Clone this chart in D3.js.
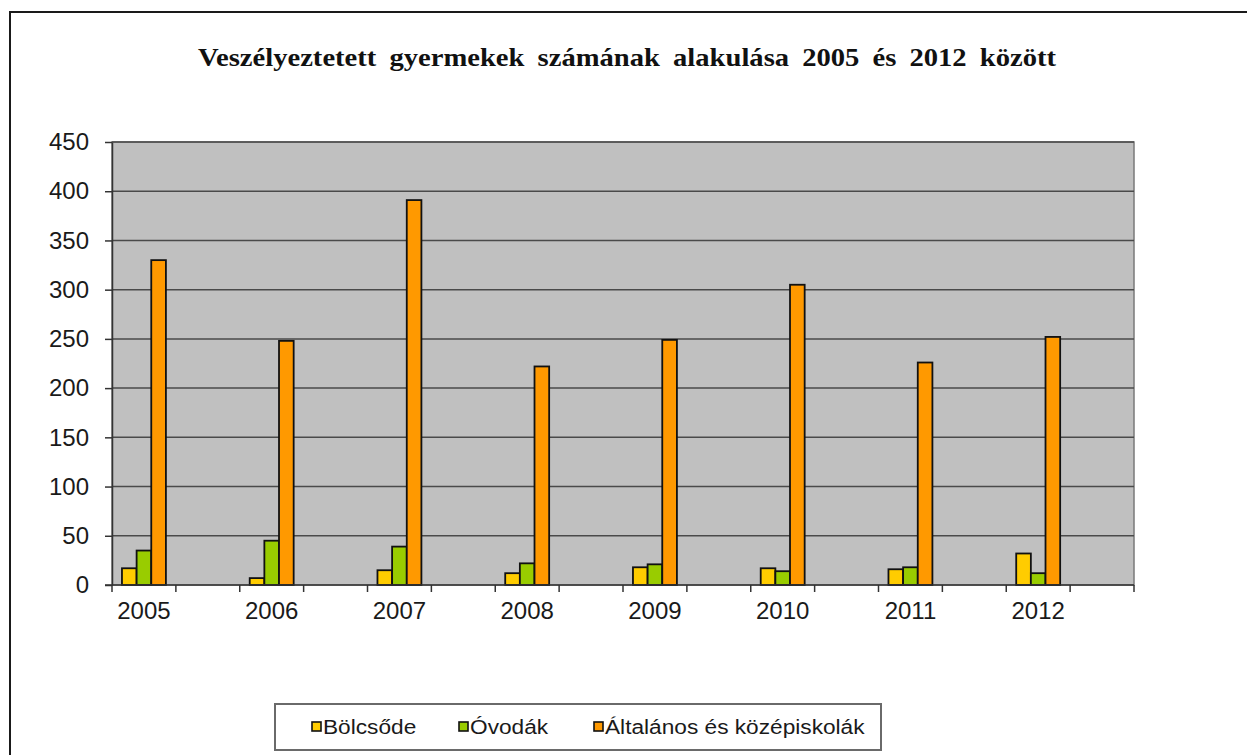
<!DOCTYPE html>
<html>
<head>
<meta charset="utf-8">
<script src="https://cdn.jsdelivr.net/npm/d3@7/dist/d3.min.js"></script>
<style>
  html, body { margin: 0; padding: 0; background: #fff; }
  svg { display: block; }
</style>
</head>
<body>
<svg id="chart" width="1247" height="755"></svg>
<script>
// Veszélyeztetett gyermekek száma intézménytípusonként, 2005–2012
const years = ["2005", "2006", "2007", "2008", "2009", "2010", "2011", "2012"];
const seriesNames = ["Bölcsőde", "Óvodák", "Általános és középiskolák"];
const bolcsode = [17, 7, 15, 12, 18, 17, 16, 32];
const ovodak = [35, 45, 39, 22, 21, 14, 18, 12];
const altalanos = [330, 248, 391, 222, 249, 305, 226, 252];
const yTicks = [0, 50, 100, 150, 200, 250, 300, 350, 400, 450];
const colors = ["#FFCC00", "#99CC00", "#FF9900"];
const titleText = "Veszélyeztetett gyermekek számának alakulása 2005 és 2012 között";

const seriesValues = [bolcsode, ovodak, altalanos];
const svg = d3.select("#chart");

// outer frame of the chart object
svg.append("rect")
  .attr("x", 10).attr("y", 12)
  .attr("width", 1260).attr("height", 770)
  .attr("fill", "#fff").attr("stroke", "#1a1a1a").attr("stroke-width", 2);

// title, slightly widened, word gaps filled out to the full width
const titleScale = 1.1;
const title = svg.append("g")
  .attr("transform", `translate(627,66) scale(${titleScale},1)`)
  .append("text")
  .attr("x", 0).attr("y", 0)
  .attr("text-anchor", "middle")
  .attr("font-family", "'Liberation Serif', 'Times New Roman', serif")
  .attr("font-weight", "bold")
  .attr("font-size", 26)
  .attr("fill", "#111")
  .text(titleText);
{
  const target = 858 / titleScale;
  const w = title.node().getComputedTextLength();
  const gaps = titleText.split(" ").length - 1;
  if (w < target && gaps > 0) title.attr("word-spacing", (target - w) / gaps);
  else if (w > target) title.attr("textLength", target).attr("lengthAdjust", "spacingAndGlyphs");
}

// plot area
const plot = { left: 112, right: 1134, top: 142, bottom: 585 };

const y = d3.scaleLinear().domain([0, 450]).range([plot.bottom, plot.top]);

// each year gets a bar slot followed by an empty slot
const slots = years.flatMap(yr => [yr, yr + "_"]);
const xSlot = d3.scaleBand().domain(slots).range([plot.left, plot.right]);
const xSeries = d3.scaleBand().domain(seriesNames)
  .range([0, xSlot.bandwidth()]).paddingInner(0).paddingOuter(0.68);

svg.append("rect")
  .attr("x", plot.left).attr("y", plot.top)
  .attr("width", plot.right - plot.left).attr("height", plot.bottom - plot.top)
  .attr("fill", "#C0C0C0").attr("stroke", "#7a7a7a").attr("stroke-width", 1.5);

// horizontal gridlines
svg.append("g").selectAll("line")
  .data(yTicks.filter(t => t > 0))
  .join("line")
  .attr("x1", plot.left).attr("x2", plot.right)
  .attr("y1", d => y(d)).attr("y2", d => y(d))
  .attr("stroke", "#4a4a4a").attr("stroke-width", 1.5);

// bars
const groups = svg.append("g").selectAll("g")
  .data(years)
  .join("g")
  .attr("transform", d => `translate(${xSlot(d)},0)`);

groups.selectAll("rect")
  .data((d, i) => seriesNames.map((s, k) => ({ s, k, v: seriesValues[k][i] })))
  .join("rect")
  .attr("x", d => xSeries(d.s))
  .attr("width", xSeries.bandwidth())
  .attr("y", d => y(d.v))
  .attr("height", d => y(0) - y(d.v))
  .attr("fill", d => colors[d.k])
  .attr("stroke", "#111").attr("stroke-width", 1.8);

// y axis
const yAxis = svg.append("g")
  .attr("transform", `translate(${plot.left},0)`)
  .call(d3.axisLeft(y).tickValues(yTicks).tickSize(7).tickPadding(16).tickSizeOuter(0));
yAxis.select(".domain").attr("stroke", "#333").attr("stroke-width", 1.5);
yAxis.selectAll(".tick line").attr("stroke", "#333").attr("stroke-width", 1.5);
yAxis.selectAll(".tick text")
  .attr("font-family", "'Liberation Sans', Arial, sans-serif")
  .attr("font-size", 24).attr("fill", "#1a1a1a");

// x axis: labels under the bar slots, ticks on slot boundaries
const xAxis = svg.append("g")
  .attr("transform", `translate(0,${plot.bottom})`)
  .call(d3.axisBottom(xSlot).tickSize(0).tickPadding(17)
    .tickFormat(d => years.includes(d) ? d : ""));
xAxis.select(".domain").remove();
xAxis.selectAll(".tick text")
  .attr("font-family", "'Liberation Sans', Arial, sans-serif")
  .attr("font-size", 24).attr("fill", "#1a1a1a");

svg.append("line")
  .attr("x1", plot.left - 7).attr("x2", plot.right)
  .attr("y1", plot.bottom).attr("y2", plot.bottom)
  .attr("stroke", "#333").attr("stroke-width", 1.5);

const boundaries = slots.map(s => xSlot(s)).concat([plot.right]);
svg.append("g").selectAll("line")
  .data(boundaries)
  .join("line")
  .attr("x1", d => d).attr("x2", d => d)
  .attr("y1", plot.bottom).attr("y2", plot.bottom + 7)
  .attr("stroke", "#333").attr("stroke-width", 1.5);

// legend
const legend = svg.append("g");
legend.append("rect")
  .attr("x", 275).attr("y", 704).attr("width", 606).attr("height", 46)
  .attr("fill", "#fff").attr("stroke", "#6a6a6a").attr("stroke-width", 2);

const legendX = [312, 459, 594];
const items = legend.selectAll("g.item")
  .data(seriesNames)
  .join("g")
  .attr("class", "item")
  .attr("transform", (d, i) => `translate(${legendX[i]},727)`);
items.append("rect")
  .attr("x", 0).attr("y", -5).attr("width", 9).attr("height", 9)
  .attr("fill", (d, i) => colors[i]).attr("stroke", "#111").attr("stroke-width", 1.6);
items.append("text")
  .attr("transform", "translate(11,0) scale(1.08,1)")
  .attr("dy", "0.35em")
  .attr("font-family", "'Liberation Sans', Arial, sans-serif")
  .attr("font-size", 21).attr("fill", "#1a1a1a")
  .text(d => d);
</script>
</body>
</html>
